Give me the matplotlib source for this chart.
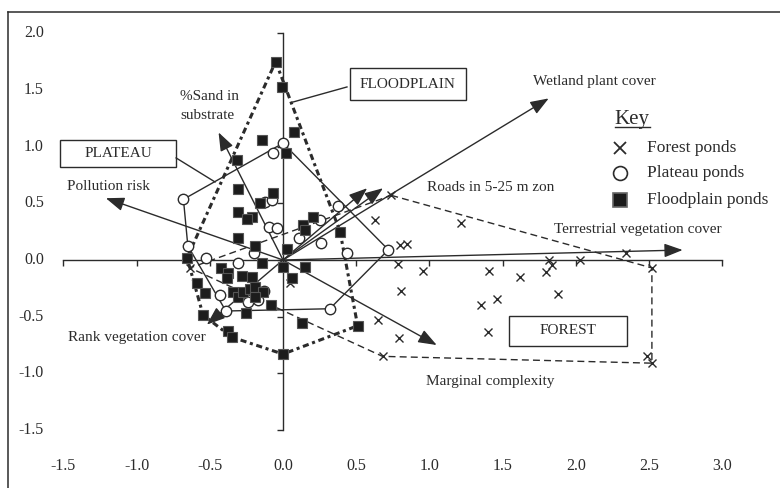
import matplotlib
matplotlib.use('Agg')
import matplotlib.pyplot as plt
from matplotlib.lines import Line2D
from matplotlib.patches import Rectangle, Polygon

plt.rcParams['font.family'] = ['Liberation Serif', 'DejaVu Serif']
INK = '#2b2b2b'

# ---- pond scores ----
forest_x = [0.74, 1.215, 0.80, 0.85, 0.785, 0.955, 1.41, 1.62, 1.82, 1.84, 1.80, 2.03, 2.34, 2.52,
            0.805, 1.88, 1.46, 1.35, 1.40, 0.79, 2.485, 2.52, 0.63, 0.65, 0.68, 0.05, -0.635]
forest_y = [0.57, 0.325, 0.13, 0.14, -0.035, -0.095, -0.095, -0.15, 0.0, -0.045, -0.105, 0.0, 0.06, -0.07,
            -0.27, -0.30, -0.34, -0.40, -0.635, -0.69, -0.85, -0.91, 0.35, -0.53, -0.85, -0.2, -0.07]

plateau_x = [0.0, -0.07, -0.68, -0.65, -0.12, -0.075, -0.095, -0.04, 0.375, 0.25, 0.11, 0.26,
             0.72, 0.435, -0.525, -0.31, -0.2, -0.43, -0.24, -0.17, -0.13, -0.39, 0.32]
plateau_y = [1.03, 0.94, 0.535, 0.125, 0.51, 0.53, 0.29, 0.28, 0.475, 0.35, 0.19, 0.15,
             0.09, 0.06, 0.015, -0.025, 0.06, -0.31, -0.37, -0.35, -0.27, -0.45, -0.43]

flood_x = [-0.05, -0.005, 0.075, -0.14, 0.02, -0.315, -0.31, -0.07, -0.31, -0.16, -0.21, -0.245,
           0.14, 0.15, 0.205, 0.39, -0.31, -0.19, 0.03, 0.15, -0.655, -0.14, 0.0, -0.42, -0.375,
           -0.38, -0.28, -0.21, -0.59, -0.53, -0.34, -0.31, -0.27, -0.225, -0.19, -0.137, -0.19,
           -0.08, -0.25, -0.546, -0.375, -0.35, 0.0, 0.06, 0.13, 0.51]
flood_y = [1.75, 1.53, 1.13, 1.06, 0.94, 0.88, 0.63, 0.59, 0.42, 0.50, 0.38, 0.36,
           0.31, 0.265, 0.38, 0.25, 0.19, 0.12, 0.10, -0.06, 0.02, -0.025, -0.06, -0.07, -0.115,
           -0.16, -0.14, -0.15, -0.20, -0.29, -0.28, -0.33, -0.28, -0.26, -0.24, -0.28, -0.33,
           -0.40, -0.47, -0.485, -0.63, -0.68, -0.83, -0.16, -0.56, -0.58]

# group envelopes
forest_hull_x = [0.74, 2.52, 2.52, 0.68, -0.635]
forest_hull_y = [0.57, -0.07, -0.91, -0.85, -0.07]
plateau_hull_x = [0.0, 0.72, 0.32, -0.39, -0.65, -0.68]
plateau_hull_y = [1.03, 0.09, -0.43, -0.45, 0.125, 0.535]
flood_hull_x = [-0.05, 0.39, 0.51, 0.0, -0.35, -0.546, -0.655]
flood_hull_y = [1.75, 0.25, -0.58, -0.83, -0.68, -0.485, 0.02]

# environmental vectors
vec_names = ['Wetland plant cover', 'Terrestrial vegetation cover', 'Roads in 5-25 m zon', '',
             'Pollution risk', '%Sand in\nsubstrate', 'Rank vegetation cover', 'Marginal complexity']
vec_x = [1.815, 2.73, 0.575, 0.683, -1.21, -0.44, -0.52, 1.05]
vec_y = [1.425, 0.088, 0.633, 0.633, 0.545, 1.125, -0.57, -0.75]
name_x = [2.13, 2.425, 1.42, 0, -1.195, -0.703, -0.997, 1.413]
name_y = [1.575, 0.273, 0.635, 0, 0.644, 1.36, -0.68, -1.076]

xticks = [-1.5, -1.0, -0.5, 0.0, 0.5, 1.0, 1.5, 2.0, 2.5, 3.0]
yticks = [-1.5, -1.0, -0.5, 0.0, 0.5, 1.0, 1.5, 2.0]

fig = plt.figure(figsize=(7.8, 4.88), dpi=100)
ax = fig.add_axes([0, 0, 1, 1])
ax.set_xlim(-1.933, 3.395)
ax.set_ylim(-2.011, 2.293)

# axes crossing at the origin, labels pushed to the frame edge
for s in ['top', 'right']:
    ax.spines[s].set_visible(False)
ax.spines['left'].set_position(('data', 0))
ax.spines['left'].set_bounds(-1.5, 2.0)
ax.spines['bottom'].set_position(('data', 0))
ax.spines['bottom'].set_bounds(-1.5, 3.0)
for s in ['left', 'bottom']:
    ax.spines[s].set_color(INK)
    ax.spines[s].set_linewidth(1.0)
ax.set_xticks(xticks)
ax.set_yticks(yticks)
ax.tick_params(direction='out', length=4, width=1, color=INK, labelleft=False, labelbottom=False)
for v in yticks:
    ax.text(0.0564, v, '%.1f' % v, transform=ax.get_yaxis_transform(), ha='right', va='center',
            fontsize=11.5, color=INK)
for v in xticks:
    ax.text(v, 0.045, '%.1f' % v, transform=ax.get_xaxis_transform(), ha='center', va='center',
            fontsize=11.5, color=INK)

# outer frame (only top and left visible in the scan)
fig.add_artist(Line2D([8 / 780, 8 / 780], [0, 1 - 12 / 488], color=INK, lw=1.1))
fig.add_artist(Line2D([8 / 780, 1], [1 - 12 / 488, 1 - 12 / 488], color=INK, lw=1.1))

# envelopes
ax.add_patch(Polygon(list(zip(forest_hull_x, forest_hull_y)), closed=True, fill=False,
                     ec=INK, lw=1.0, ls=(0, (5, 3))))
ax.add_patch(Polygon(list(zip(plateau_hull_x, plateau_hull_y)), closed=True, fill=False,
                     ec=INK, lw=1.0))
ax.add_patch(Polygon(list(zip(flood_hull_x, flood_hull_y)), closed=True, fill=False,
                     ec=INK, lw=2.2, ls=(0, (2, 1.2, 1, 1.2))))

# vectors
for i in range(len(vec_x)):
    ax.annotate('', xy=(vec_x[i], vec_y[i]), xytext=(0, 0),
                arrowprops=dict(arrowstyle='-|>,head_length=0.8,head_width=0.3', lw=1.0,
                                color=INK, mutation_scale=14, shrinkA=0, shrinkB=0))
    if vec_names[i]:
        if i == 5:
            ax.text(name_x[i], name_y[i], vec_names[i], ha='left', va='center', fontsize=11,
                    color=INK, linespacing=1.55)
        else:
            ax.text(name_x[i], name_y[i], vec_names[i], ha='center', va='center', fontsize=11,
                    color=INK)

# points
ax.plot(forest_x, forest_y, ls='none', marker='x', ms=6, mew=1.0, color=INK, zorder=4)
ax.plot(plateau_x, plateau_y, ls='none', marker='o', ms=7.5, mew=1.0, mfc='white', mec=INK, zorder=4)
ax.plot(flood_x, flood_y, ls='none', marker='s', ms=7, mew=0.8, mfc='#1c1c1c', mec='#555555', zorder=5)

# group boxes
boxes = [('FLOODPLAIN', 0.457, 1.411, 0.792, 0.282),
         ('PLATEAU', -1.522, 0.820, 0.792, 0.238),
         ('FOREST', 1.543, -0.758, 0.805, 0.264)]
for name, bx, by, bw, bh in boxes:
    ax.add_patch(Rectangle((bx, by), bw, bh, fill=False, ec=INK, lw=1.0, zorder=6))
    ax.text(bx + bw / 2, by + bh / 2, name, ha='center', va='center', fontsize=11, color=INK, zorder=6)
ax.plot([0.437, 0.068], [1.526, 1.393], color=INK, lw=1.0)
ax.plot([-0.73, -0.464], [0.90, 0.688], color=INK, lw=1.0)

# key
key = ax.text(2.266, 1.199, 'Key', ha='left', va='baseline', fontsize=15, color=INK)
key_labels = ['Forest ponds', 'Plateau ponds', 'Floodplain ponds']
key_y = [0.988, 0.767, 0.529]
ax.plot([2.30], [key_y[0]], marker='x', ms=8.5, mew=1.3, color=INK, ls='none')
ax.plot([2.30], [key_y[1]], marker='o', ms=10, mew=1.2, mfc='white', mec=INK, ls='none')
ax.plot([2.30], [key_y[2]], marker='s', ms=10, mew=1.2, mfc='#1c1c1c', mec='#666666', ls='none')
for lab, ky in zip(key_labels, key_y):
    ax.text(2.485, ky, lab, ha='left', va='center', fontsize=12.5, color=INK)
fig.canvas.draw()
bb = key.get_window_extent().transformed(ax.transData.inverted())
ax.plot([bb.x0, bb.x1], [1.177, 1.177], color=INK, lw=1.0)

fig.savefig('out.png', dpi=100)
